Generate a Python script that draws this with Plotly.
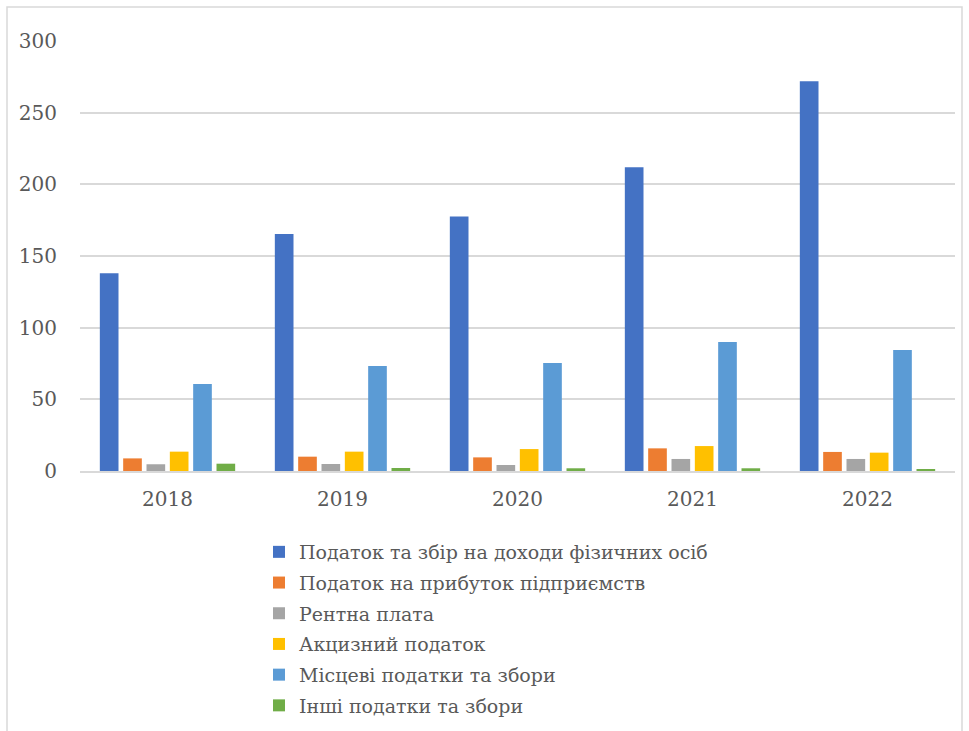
import plotly.graph_objects as go

years = ["2018", "2019", "2020", "2021", "2022"]
series_names = [
    "Податок та збір на доходи фізичних осіб",
    "Податок на прибуток підприємств",
    "Рентна плата",
    "Акцизний податок",
    "Місцеві податки та збори",
    "Інші податки та збори",
]
pdfo = [137.9, 165.3, 177.5, 212.0, 272.0]
profit = [8.8, 10.0, 9.5, 15.8, 13.3]
rent = [4.7, 4.9, 4.2, 8.4, 8.4]
excise = [13.5, 13.5, 15.3, 17.4, 12.8]
local = [60.7, 73.3, 75.3, 90.0, 84.4]
other = [5.1, 2.1, 1.9, 1.9, 1.2]
colors = ["#4472C4", "#ED7D31", "#A5A5A5", "#FFC000", "#5B9BD5", "#70AD47"]

values = [pdfo, profit, rent, excise, local, other]

fig = go.Figure()
for i, (name, vals, col) in enumerate(zip(series_names, values, colors)):
    fig.add_trace(go.Bar(x=years, y=vals, name=name, legendgroup=f"g{i}",
                         marker=dict(color=col, line=dict(width=0))))

W, H = 969, 731
L, R, T, B = 80, 14, 41, 260
pw = W - L - R
ph = H - T - B

def px_x(p):
    return (p - L) / pw

def px_y(p):
    return (H - B - p) / ph

SERIF = "DejaVu Serif"

fig.update_layout(
    width=W, height=H,
    margin=dict(l=L, r=R, t=T, b=B, autoexpand=False),
    paper_bgcolor="white", plot_bgcolor="white",
    barmode="group", bargap=0.2, bargroupgap=0.2,
    font=dict(family=SERIF, size=20, color="#595959"),
    showlegend=True,
    legend=dict(
        orientation="v", x=px_x(259), y=px_y(533), xanchor="left", yanchor="top",
        font=dict(family=SERIF, size=19, color="#595959"), traceorder="grouped",
        itemwidth=30, tracegroupgap=3, bgcolor="rgba(0,0,0,0)",
    ),
    xaxis=dict(showgrid=False, showline=True, linecolor="#D9D9D9", linewidth=1.5,
               ticks="", tickfont=dict(family=SERIF, size=20, color="#595959"), ticklabelstandoff=9),
    yaxis=dict(range=[0, 300], dtick=50, showgrid=True, gridcolor="#D9D9D9", gridwidth=1.5,
               zeroline=False, showline=False, ticks="",
               tickfont=dict(family=SERIF, size=20, color="#595959"), ticklabelstandoff=22),
    shapes=[dict(type="rect", xref="paper", yref="paper",
                 x0=px_x(7), x1=px_x(962), y0=px_y(740), y1=px_y(7),
                 line=dict(color="#D9D9D9", width=1.5), fillcolor="rgba(0,0,0,0)", layer="below")],
)

fig.write_html("out.html", config={"displayModeBar": False},
               post_script="document.body.style.margin='0';document.body.style.overflow='hidden';")
